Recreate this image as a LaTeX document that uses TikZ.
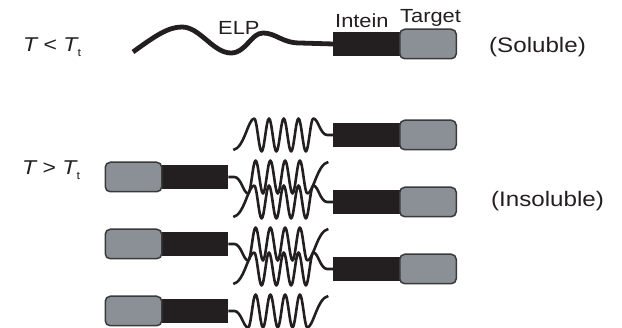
\documentclass[tikz,border=0pt]{standalone}
\usepackage{fontspec}
\setmainfont{Liberation Sans}[FakeStretch=1.15]
\usetikzlibrary{positioning}
\definecolor{ink}{HTML}{231F20}
\definecolor{tgtgray}{HTML}{8A9096}
\definecolor{tgtedge}{HTML}{3A3A3A}
\newcommand{\Tsub}{{\itshape T}\raisebox{-5pt}{\fontsize{11}{11}\selectfont t}}

\begin{document}
\begin{tikzpicture}[x=1pt,y=-1pt,every node/.style={font=\fontsize{19}{22}\selectfont,text=ink,inner sep=0pt}]
		\tikzset{
			intein/.style={fill=ink,minimum width=66.5pt,minimum height=24pt,outer sep=0pt},
			target/.style={fill=tgtgray,draw=tgtedge,line width=1.5pt,rounded corners=5pt,minimum width=56.5pt,minimum height=29.5pt,outer sep=0pt},
			elp/.style={draw=ink,line width=4.8pt},
			coil/.style={draw=ink,line width=2.6pt,line join=round},
		}
		\def\amp{16.5}
		\useasboundingbox (0,0) rectangle (622,328);
		
		% below the transition temperature
		\node[intein] (inS) at (366.5,44) {};
		\node[target,right=0pt of inS] (tgS) {};
		\draw[elp](133,52) .. controls (155,36) and (168,27) .. (182,27) .. controls (200,27) and (213,53) .. (231,53) .. controls (246,53) and (251,33) .. (263,33) .. controls (276,33) and (282,43) .. (300,43) -- (inS.west);
		
		\node[anchor=base west] (lbElp) at (218,35) {ELP};
		\node[anchor=base west] (lbIn) at (335,28) {Intein};
		\node[anchor=base west] (lbTg) at (400,22.5) {Target};
		\node[anchor=base west,font=\fontsize{20}{22}\selectfont] (cold) at (23,52) {{\itshape T} < \Tsub};
		\node[anchor=base west,font=\fontsize{21}{24}\selectfont] (sol) at (489,53) {(Soluble)};
		
		% above the transition temperature
		\node[anchor=base west,font=\fontsize{20}{22}\selectfont] (hot) at (22,175) {{\itshape T} > \Tsub};
		\node[anchor=base west,font=\fontsize{21}{24}\selectfont] (insol) at (491,207) {(Insoluble)};
		
		\foreach \i/\yl/\yr in {1/177/135,2/244/202,3/311/269}{
			\node[intein] (inL\i) at (195,\yl) {};
			\node[target,left=0pt of inL\i] (tgL\i) {};
			\node[intein] (inR\i) at (366.5,\yr) {};
			\node[target,right=0pt of inR\i] (tgR\i) {};
			\begin{scope}[shift={(inL\i.east)}]
				\draw[coil](0,0) -- (6,0) .. controls (13,0) and (15,\amp) .. (20,\amp)
					\foreach \k in {0,...,7}{ .. controls ({22.65+7.375*\k},{\amp*cos(180*\k)}) and ({24.725+7.375*\k},{-\amp*cos(180*\k)}) .. ({27.375+7.375*\k},{-\amp*cos(180*\k)}) }
					.. controls (85,\amp) and (89,-13) .. (100,-15) coordinate (endL\i);
			\end{scope}
			\begin{scope}[shift={(inR\i.west)},rotate=180]
				\draw[coil](0,0) -- (6,0) .. controls (13,0) and (15,\amp) .. (20,\amp)
					\foreach \k in {0,...,7}{ .. controls ({22.65+7.375*\k},{\amp*cos(180*\k)}) and ({24.725+7.375*\k},{-\amp*cos(180*\k)}) .. ({27.375+7.375*\k},{-\amp*cos(180*\k)}) }
					.. controls (85,\amp) and (89,-13) .. (100,-15) coordinate (endR\i);
			\end{scope}
		}
	\end{tikzpicture}
\end{document}
